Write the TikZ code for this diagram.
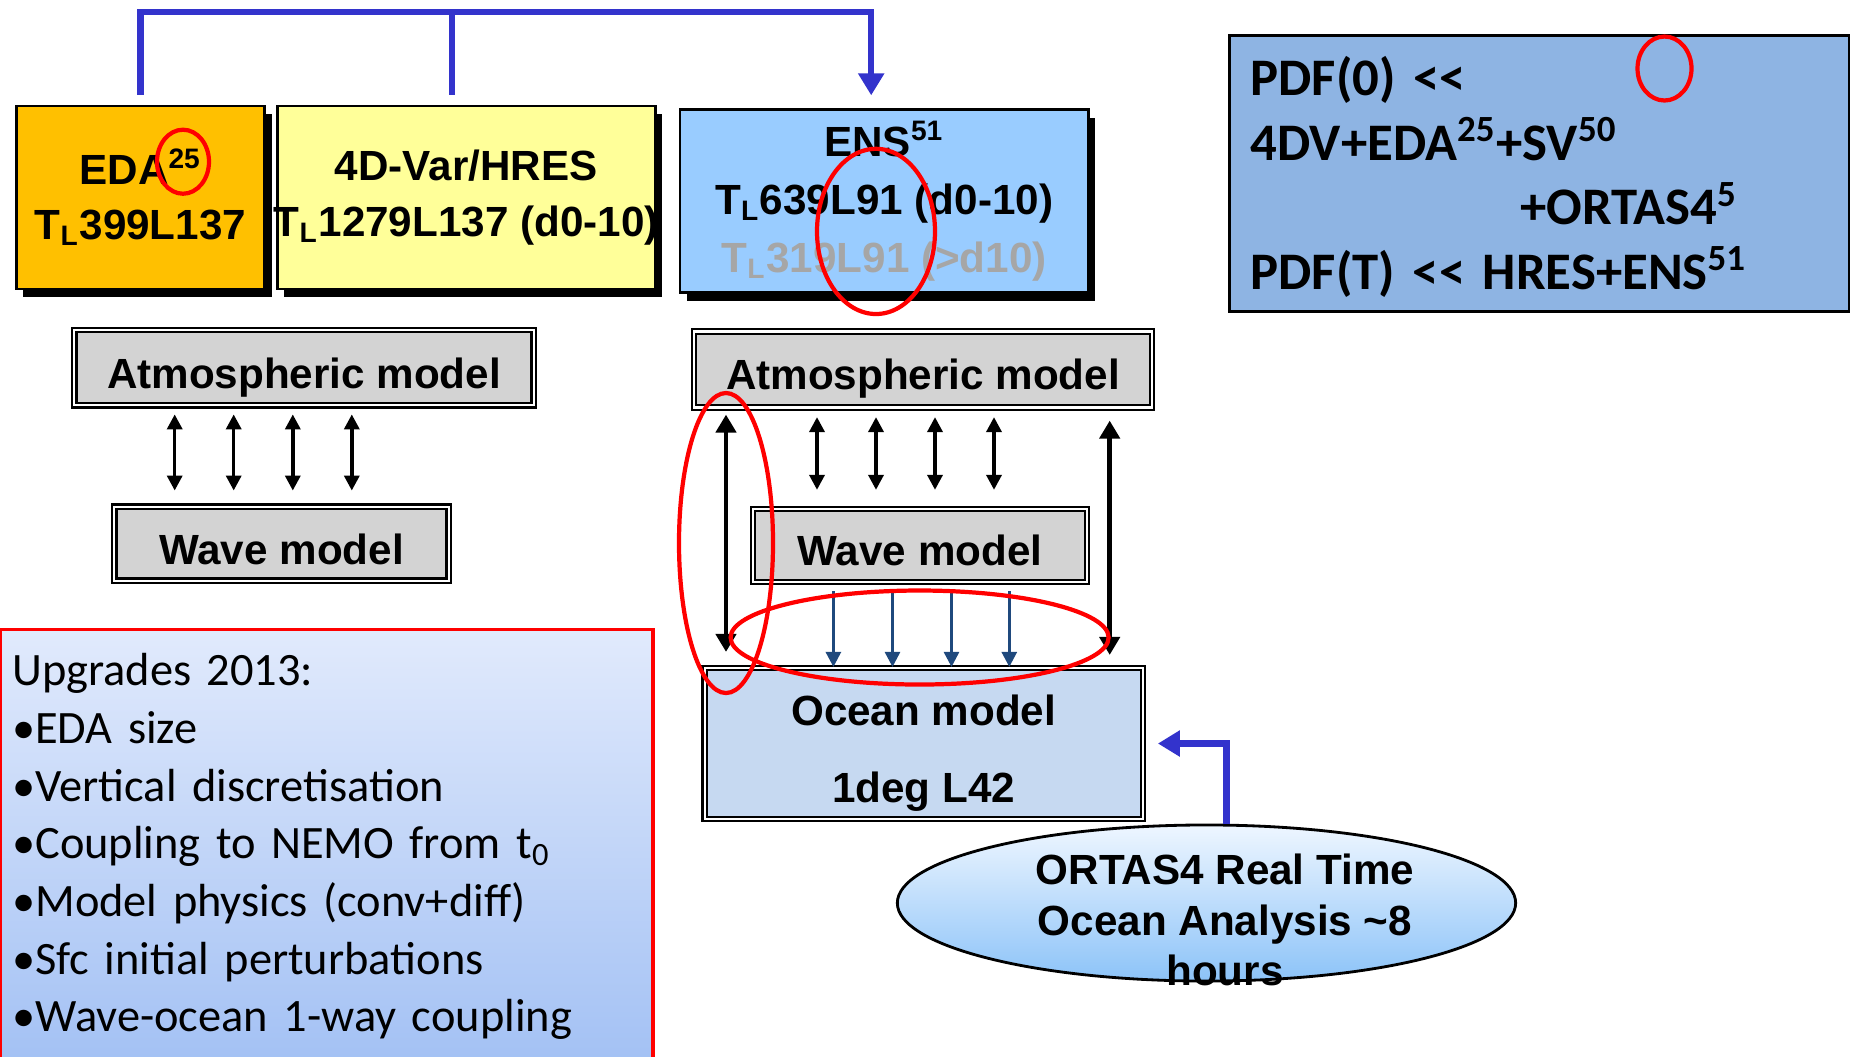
\documentclass[tikz,border=0pt]{standalone}
\usepackage{fontspec}
\setmainfont{Liberation Sans}
\newfontfamily\calibri[WordSpace=0.75]{Carlito}
\usetikzlibrary{arrows.meta,shadows,shapes.geometric}
\definecolor{edaorange}{HTML}{FFC000}
\definecolor{hresyellow}{HTML}{FFFF99}
\definecolor{ensblue}{HTML}{99CCFF}
\definecolor{pdfblue}{HTML}{8EB4E3}
\definecolor{modelgray}{HTML}{D3D3D3}
\definecolor{oceanblue}{HTML}{C6D9F1}
\definecolor{linkblue}{HTML}{3333CC}
\definecolor{flowblue}{HTML}{1F497D}
\definecolor{listtop}{HTML}{E1EAFC}
\definecolor{listbottom}{HTML}{A3C1F4}
\definecolor{rtatop}{HTML}{EEF6FF}
\definecolor{rtabottom}{HTML}{8CC3F8}
\definecolor{faded}{HTML}{A6A6A6}
\begin{document}
\begin{tikzpicture}[x=0.01cm, y=-0.01cm,
    every node/.style={inner sep=0pt, align=center, font=\fontsize{12}{15.8}\selectfont\bfseries},
    config/.style={draw, line width=0.8pt, minimum height=1.83cm,
      drop shadow={shadow xshift=0.07cm, shadow yshift=-0.08cm, fill=black, opacity=1}},
    model/.style={draw, fill=modelgray, line width=0.6pt, double=white, double distance=0.6pt, text height=11.6pt, text depth=0pt},
    redring/.style={draw=red, line width=1.2pt},
    bracket/.style={draw=linkblue, line width=1.8pt, >={Triangle[width=0.25cm, length=0.22cm]}},
    updown/.style={line width=1pt, <->, >={Triangle[width=0.15cm, length=0.15cm]}},
    longway/.style={line width=1.4pt, <->, >={Triangle[width=0.2cm, length=0.18cm]}},
    oneway/.style={draw=flowblue, line width=0.8pt, ->, >={Triangle[width=0.15cm, length=0.15cm]}}]
  \useasboundingbox (0,0) rectangle (1851,1056);

  % configurations
  \node[config, fill=edaorange, minimum width=2.48cm] (eda) at (140.5,197.5) {EDA\textsuperscript{25}\\T\textsubscript{L}399L137};
  \node[config, fill=hresyellow, minimum width=3.78cm] (hres) at (466.3,197.5) {4D-Var/HRES\\\makebox[0pt]{T\textsubscript{L}1279L137 (d0-10)}};
  \node[config, fill=ensblue, minimum width=4.08cm, font=\fontsize{12}{16.5}\selectfont\bfseries] (ens) at (884.2,201.3)
    {ENS\textsuperscript{51}\\T\textsubscript{L}639L91 (d0-10)\\\textcolor{faded}{T\textsubscript{L}319L91 (>d10)}};
  \node[draw, line width=0.8pt, fill=pdfblue, minimum width=6.19cm, minimum height=2.76cm, text width=5.77cm, align=left,
    text height=0pt, text depth=44.1pt, font=\calibri\fontsize{15}{18.3}\selectfont\bfseries] (pdf) at (1539.3,173.5)
    {PDF(0) <<\\4DV+EDA\textsuperscript{25}+SV\textsuperscript{50}\\\hspace*{2.695cm}+ORTAS4\textsuperscript{5}\\PDF(T) << HRES+ENS\textsuperscript{51}};

  \path ([xshift=-0.14cm]hres.north) coordinate (hmid) ([xshift=-0.13cm]ens.north) coordinate (emid);
  \coordinate (link) at (0,12);
  \draw[bracket, ->] ([yshift=0.1cm]eda.north) |- (link -| emid) -- ([yshift=0.13cm]emid);
  \draw[bracket] ([yshift=0.1cm]hmid) -- (hmid |- link);

  % models
  \node[model, minimum width=4.59cm, minimum height=0.75cm] (atmL) at (304,367.8) {Atmospheric model};
  \node[model, minimum width=3.34cm, minimum height=0.74cm] (waveL) at (281.5,543.6) {Wave model};
  \node[model, minimum width=4.58cm, minimum height=0.76cm] (atmR) at (923,369.5) {Atmospheric model};
  \node[model, minimum width=3.34cm, minimum height=0.73cm] (waveR) at (920,545.4) {Wave model};
  \node[model, fill=oceanblue, minimum width=4.38cm, minimum height=1.51cm, text height=33.6pt,
    font=\fontsize{12}{21.8}\selectfont\bfseries] (ocean) at (923.7,743.5) {Ocean model\\1deg L42};

  \foreach \xx [count=\i] in {174.7,233.7,292.8,351.8}{
    \coordinate (la\i) at (\xx,0);
    \draw[updown, shorten <=0.08cm, shorten >=0.15cm] (atmL.south -| la\i) -- (waveL.north -| la\i);
  }
  \foreach \xx [count=\i] in {817,876,935,994}{
    \coordinate (ra\i) at (\xx,0);
    \draw[updown, shorten <=0.085cm, shorten >=0.18cm] (atmR.south -| ra\i) -- (waveR.north -| ra\i);
  }
  \foreach \xx [count=\i] in {833.4,892.5,951.5,1009.3}{
    \coordinate (wo\i) at (\xx,0);
    \draw[oneway, shorten <=0.08cm] (waveR.south -| wo\i) -- (ocean.north -| wo\i);
  }
  \coordinate (lo1) at (726,0);
  \coordinate (lo2) at (1109.7,0);
  \draw[longway, shorten <=0.06cm, shorten >=0.15cm] (atmR.south -| lo1) -- (ocean.north -| lo1);
  \draw[longway, shorten <=0.12cm, shorten >=0.12cm] (atmR.south -| lo2) -- (ocean.north -| lo2);

  % ocean analysis
  \node[ellipse, draw, line width=0.8pt, minimum width=6.18cm, minimum height=1.56cm, top color=rtatop, bottom color=rtabottom] (rta) at (1206.5,903) {};
  \node[font=\fontsize{12}{14.4}\selectfont\bfseries] (rtatext) at (1225,920) {ORTAS4 Real Time\\Ocean Analysis \textasciitilde8\\hours};
  \path ([xshift=0.2cm]rta.north) coordinate (rtatop);
  \draw[bracket, ->, shorten >=0.14cm] (rtatop) |- (ocean.east);

  % upgrades
  \node[draw=red, line width=0.9pt, top color=listtop, bottom color=listbottom, minimum width=6.518cm, minimum height=4.336cm,
    text width=6.29cm, align=left, font=\calibri\fontsize{13.2}{16.4}\selectfont] (upgrades) at (326.9,846.8)
    {Upgrades 2013:\\•EDA size\\•Vertical discretisation\\•Coupling to NEMO from t\textsubscript{0}\\•Model physics (conv+diff)\\•Sfc initial perturbations\\•Wave-ocean 1-way coupling};

  % highlights
  \draw[redring] (183,161.7) ellipse [x radius=26, y radius=32];
  \draw[redring] (876,231.4) ellipse [x radius=59, y radius=82.6];
  \draw[redring] (1664.5,68.5) ellipse [x radius=27, y radius=32];
  \draw[redring] (726,543) ellipse [x radius=47, y radius=150];
  \draw[redring] (919.6,637.5) ellipse [x radius=189, y radius=47];
\end{tikzpicture}
\end{document}
